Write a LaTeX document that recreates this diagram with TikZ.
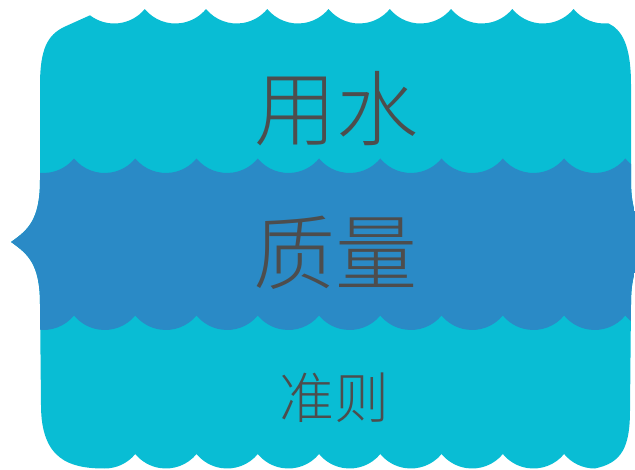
\documentclass[tikz,border=0pt]{standalone}
\usepackage{fontspec}
\newfontfamily\cjk{Noto Sans CJK SC Light}
\definecolor{watercyan}{RGB}{9,189,212}
\definecolor{waterblue}{RGB}{42,138,198}
\definecolor{textgray}{RGB}{77,77,77}

\begin{document}
\begin{tikzpicture}[
	x = 1pt, y = 1pt, % one unit per pixel
	wave/.style={radius=39.64}, % scallop arcs
	big/.style={anchor=base, text=textgray, inner sep=0pt, font=\cjk\fontsize{82}{82}\selectfont},
	small/.style={anchor=base, text=textgray, inner sep=0pt, font=\cjk\fontsize{55}{55}\selectfont},
	]
	\useasboundingbox (0,0) rectangle (635,469);

	% Outline of the whole shape
	\begin{scope}
	\clip (90,453.7) arc[wave, start angle=232.5, end angle=320.6]
		foreach \k in {1,...,7} {arc[wave, start angle=219.4, end angle=320.6]}
		arc[wave, start angle=219.4, end angle=276]
		.. controls (622,439) and (631,424) .. (631,384) -- (631,289)
		.. controls (631,249) and (643,239) .. (660,227)
		.. controls (643,215) and (631,205) .. (631,165) -- (630,59)
		.. controls (630,22) and (622,6) .. (594.73,0.5)
		arc[wave, start angle=270, end angle=219.4]
		foreach \k in {1,...,7} {arc[wave, start angle=320.6, end angle=219.4]}
		arc[wave, start angle=320.6, end angle=270]
		.. controls (70,0.5) and (41,9) .. (41,64) -- (40,165)
		.. controls (40,205) and (28,215) .. (11,227)
		.. controls (28,239) and (40,249) .. (40,289) -- (40,384)
		.. controls (40,421) and (48,434) .. (64,442) -- cycle;

	% Bands
	\fill[watercyan] (0,0) rectangle (700,469);
	\fill[waterblue] (-48.52,310.5)
		foreach \k in {1,...,12} {arc[wave, start angle=219.4, end angle=320.6]}
		-- (686.6,153.5)
		foreach \k in {1,...,12} {arc[wave, start angle=320.6, end angle=219.4]}
		-- cycle;
	\end{scope}

	% Labels
	\node[big] (yongshui) at (336,329.5) {用水};
	\node[big] (zhiliang) at (335.5,185) {质量};
	\node[small] (zhunze) at (334,51) {准则};

\end{tikzpicture}
\end{document}
